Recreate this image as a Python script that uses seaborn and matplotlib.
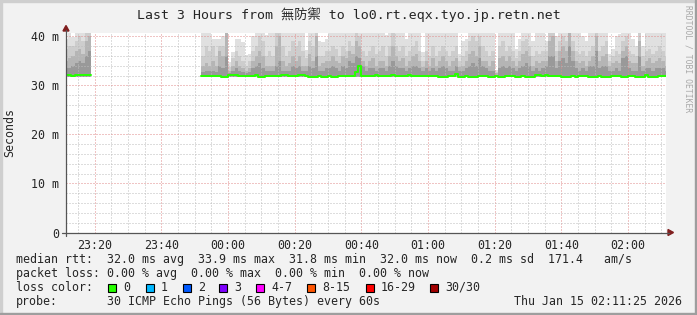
import matplotlib
matplotlib.use("Agg")
import matplotlib.pyplot as plt
import matplotlib.dates as mdates
from matplotlib.ticker import MultipleLocator
from matplotlib.patches import Rectangle, Polygon
from matplotlib.lines import Line2D
import numpy as np
import pandas as pd
import seaborn as sns

sns.set_style("white")
plt.rcParams['font.family'] = ['DejaVu Sans Mono', 'Noto Sans CJK TC']
plt.rcParams['lines.scale_dashes'] = False

W, H = 697, 315

# ---------------- data ----------------
title = "Last 3 Hours from 無防禦 to lo0.rt.eqx.tyo.jp.retn.net"
range_start = "2026-01-14 23:11:25"
range_end = "2026-01-15 02:11:25"
y_ticks = [0, 10, 20, 30, 40]
y_tick_labels = ["0", "10 m", "20 m", "30 m", "40 m"]
y_max = 40.8
smoke_floor = 31.7

block_starts = ["2026-01-14 23:11", "2026-01-14 23:52"]

# block 1 (23:11 - 23:18), values in ms
b1_median = [32.1, 32.1, 32.0, 32.1, 32.2, 32.1, 32.2, 32.1]
b1_top = [39.5, 41, 39.8, 41, 41, 41, 41, 41]
b1_q2 = [37.5, 38, 38, 39, 40, 39, 41, 41]
b1_q3 = [35, 35.5, 36, 37, 37.5, 36.5, 39, 40]
b1_q4 = [33.5, 33.5, 34, 34.5, 35, 34.5, 36, 37]

# block 2 (23:52 - 02:11), values in ms
b2_median = [
    32.0, 32.0, 32.0, 31.9, 31.9, 32.0, 31.8, 31.8, 32.1, 32.2,
    32.2, 32.0, 32.0, 32.0, 32.0, 32.0, 32.2, 31.8, 31.8, 32.0,
    32.0, 32.0, 32.0, 32.0, 32.2, 32.2, 32.0, 32.0, 32.0, 32.2,
    32.1, 32.0, 31.8, 31.8, 31.8, 32.0, 31.8, 31.8, 32.0, 31.8,
    31.8, 32.0, 32.0, 32.0, 32.0, 32.0, 32.7, 33.9, 32.0, 32.0,
    32.0, 32.0, 32.1, 32.0, 32.0, 32.0, 32.0, 32.1, 32.0, 32.0,
    32.0, 32.0, 32.1, 32.0, 32.0, 32.0, 32.0, 32.0, 32.0, 32.0,
    32.0, 31.8, 31.8, 31.8, 32.0, 32.0, 32.3, 31.8, 31.8, 32.0,
    31.8, 31.8, 31.8, 32.0, 32.0, 32.0, 31.8, 31.8, 32.0, 31.8,
    31.8, 32.0, 32.0, 32.0, 31.8, 31.8, 32.0, 31.8, 31.8, 31.8,
    32.2, 32.2, 32.0, 32.2, 32.0, 32.0, 32.0, 32.0, 31.8, 31.8,
    31.8, 32.0, 31.8, 32.0, 32.0, 32.0, 31.8, 31.8, 31.8, 32.0,
    31.8, 31.8, 31.8, 32.0, 32.0, 32.0, 31.8, 31.8, 32.0, 32.0,
    31.8, 31.8, 31.8, 32.2, 31.8, 31.8, 31.8, 32.0, 32.0, 32.0,
]
b2_top = [
    41, 41, 41, 39.5, 39.4, 39.4, 40, 41, 34.8, 36.9,
    39.4, 39.4, 38.9, 36.2, 36.5, 40, 41, 41, 41, 40.2,
    41, 41, 41, 41, 41, 41, 41, 41, 41, 41,
    41, 37.3, 41, 41, 41, 39, 38.8, 39.5, 41, 41,
    41, 41, 41, 41, 41, 41, 41, 41, 41, 41,
    41, 41, 41, 41, 41, 40.3, 41, 41, 41, 41,
    41, 39.5, 41, 41, 41, 41, 36.8, 41, 41, 41,
    41, 41, 41, 41, 41, 41, 41, 36.5, 39, 39.5,
    41, 41, 41, 41, 41, 41, 41, 41, 33.2, 41,
    41, 41, 41, 41, 37.4, 39.5, 41, 41, 41, 39,
    41, 41, 41, 39, 41, 41, 40, 41, 41, 41,
    41, 41, 41, 41, 40, 39, 41, 41, 41, 41,
    41, 41, 36.5, 37.5, 40, 40.5, 41, 41, 41, 39.5,
    38, 41, 38, 41, 41, 41, 41, 41, 41, 41,
]
b2_q2 = [
    36, 38, 37, 38, 36, 38, 38, 41, 33.8, 35.5,
    37, 36, 35, 34, 35, 37, 38, 40, 39, 36,
    37, 36, 41, 41, 38, 36, 37, 39, 38, 39,
    37, 35.5, 39, 38, 41, 36, 36, 37, 37, 38,
    37.5, 36, 38, 37, 39, 38, 41, 40, 37, 36,
    37, 38, 36.5, 37, 38, 36, 38, 41, 38, 37,
    38, 36, 37, 38, 39, 37, 35, 37, 36, 38,
    36, 37, 38, 37, 36, 37, 38, 35, 36, 37,
    39, 40, 39, 40, 38, 37, 36, 37, 32.8, 38,
    39, 37, 38, 37, 35.5, 37, 39, 39.5, 38, 36,
    37, 36.5, 37, 37, 41, 41, 37, 39, 40, 39,
    41, 39, 37, 36.5, 37, 36, 37, 38, 41, 37,
    38, 39, 35, 36, 37, 36.5, 39, 40, 37, 36.5,
    36, 41, 36, 37, 37.5, 36.5, 37, 38, 37, 36,
]
b2_q3 = [
    34, 34.5, 34, 35, 34, 37, 36, 41, 33, 34,
    35, 34, 33.5, 33, 33.5, 35, 36, 37, 36, 34,
    34, 34, 38, 40, 35, 34, 34.5, 36, 35, 36,
    34, 34, 36.5, 35, 40, 34, 34.5, 35, 35, 36,
    35, 34.5, 36, 35.5, 37, 36.5, 39, 38, 35, 34,
    35, 35.5, 34, 35, 35, 34, 36, 38, 36, 35,
    35.5, 34, 35, 36, 36.5, 35, 33.8, 35, 34, 35.5,
    34, 35, 36, 35, 34, 35, 35.5, 33.8, 34, 35,
    36.5, 37, 36, 38, 35, 35, 34, 35, 32.5, 35.5,
    36, 35, 36, 35, 34, 35, 36.5, 37, 36, 34,
    35, 34.5, 35, 35, 39, 40, 35, 37, 38, 37,
    41, 37, 35, 34.5, 35, 34, 35, 36, 40, 35,
    36, 36.5, 34, 34.5, 35, 34.5, 37, 38, 35, 34.5,
    34.5, 39, 34, 35, 35.5, 34.5, 35, 35.5, 35, 34,
]
b2_q4 = [
    32.8, 33, 33, 33, 32.8, 34, 33.5, 36, 32.5, 33,
    33.5, 33, 32.8, 32.5, 32.8, 33.5, 34, 34.5, 33.5, 33,
    33, 33, 34, 35, 33, 33, 33, 34, 33.5, 34,
    33, 33, 34, 33.5, 36, 33, 33, 33.5, 33.5, 34,
    33.5, 33, 34, 33.5, 35, 34.5, 36, 35.5, 34, 33,
    33.5, 33.5, 33, 33.5, 33.5, 33, 34, 35, 34, 33.5,
    33.5, 33, 33.5, 34, 34, 33.5, 33, 33.5, 33, 33.5,
    33, 33.5, 34, 33.5, 33, 33, 34, 33, 33, 33.5,
    34, 34.5, 34, 35.5, 34, 33.5, 33, 33, 32.2, 33.5,
    34, 33.5, 34, 33.5, 33, 33.5, 34, 34.5, 34, 33,
    33.5, 33, 33.5, 34, 36, 36, 33.5, 35, 35.5, 34.5,
    38, 35, 33.5, 33, 33.5, 33, 34, 34, 37, 33.5,
    34, 34, 33, 33, 33.5, 33, 35.5, 36, 33.5, 33,
    33, 36, 33, 33.5, 33.5, 33, 33.5, 33.5, 33.5, 33,
]

band_colors = ["#e0e0e0", "#cdcdcd", "#b5b5b5", "#999999"]
median_color = "#26ff00"

legend_line1 = "median rtt:  32.0 ms avg  33.9 ms max  31.8 ms min  32.0 ms now  0.2 ms sd  171.4   am/s"
legend_line2 = "packet loss: 0.00 % avg  0.00 % max  0.00 % min  0.00 % now"
loss_labels = ["0", "1", "2", "3", "4-7", "8-15", "16-29", "30/30"]
loss_colors = ["#26ff00", "#00b8ff", "#0059ff", "#7e00ff", "#ff00ff",
               "#ff5500", "#ff0000", "#a10000"]
loss_box_x = [108.3, 145.7, 182.7, 219.3, 256, 307.3, 366, 430.3]
probe_text = "30 ICMP Echo Pings (56 Bytes) every 60s"
stamp_text = "Thu Jan 15 02:11:25 2026"

# ---------------- figure ----------------
fig = plt.figure(figsize=(W / 100, H / 100), dpi=100, facecolor="#f2f2f2")


def fx(px):
    return px / W


def fy(py):
    return 1 - py / H


ax_left, ax_top, ax_w, ax_h = 66, 32.5, 600, 200
ax = fig.add_axes([fx(ax_left), fy(ax_top + ax_h), ax_w / W, ax_h / H])
ax.set_facecolor("white")

x_start = mdates.date2num(pd.Timestamp(range_start))
x_end = mdates.date2num(pd.Timestamp(range_end))

blocks = [
    (block_starts[0], b1_median, [b1_top, b1_q2, b1_q3, b1_q4]),
    (block_starts[1], b2_median, [b2_top, b2_q2, b2_q3, b2_q4]),
]
for start, med, bands in blocks:
    n = len(med)
    xs = mdates.date2num(pd.date_range(start, periods=n + 1, freq="min"))
    xs = np.minimum(xs, x_end)
    for vals, col in zip(bands, band_colors):
        v = np.append(np.asarray(vals, float), vals[-1])
        ax.fill_between(xs, smoke_floor, v, step="post", color=col,
                        linewidth=0, zorder=1)
    m = np.append(np.asarray(med, float), med[-1])
    sns.lineplot(x=xs, y=m, ax=ax, color=median_color, linewidth=1.45,
                 drawstyle="steps-post", estimator=None, sort=False, zorder=4)

ax.set_xlim(x_start, x_end)
ax.set_ylim(0, y_max)
ax.set_yticks(y_ticks)
ax.set_yticklabels(y_tick_labels)
ax.yaxis.set_minor_locator(MultipleLocator(2))
ax.xaxis.set_major_locator(mdates.MinuteLocator(byminute=[0, 20, 40]))
ax.xaxis.set_minor_locator(mdates.MinuteLocator(byminute=range(0, 60, 5)))
ax.xaxis.set_major_formatter(mdates.DateFormatter("%H:%M"))
ax.set_axisbelow(False)
ax.grid(True, which="minor", color="#bdbdbd", linestyle=(0, (0.72, 1.44)),
        linewidth=0.72, antialiased=True)
ax.grid(True, which="major", color="#e08a8a", linestyle=(0, (0.72, 1.44)),
        linewidth=0.72, antialiased=True)
for s in ax.spines.values():
    s.set_visible(False)
ax.tick_params(which="major", length=3, width=0.7, color="#333333",
               direction="out", labelsize=8.4, pad=2)
ax.tick_params(which="minor", length=1.5, width=0.7, color="#333333", direction="out")
ax.set_xlabel("")
ax.set_ylabel("")

# axis lines + arrows
axis_col = "#555555"
arrow_col = "#801f1f"
fig.add_artist(Line2D([fx(ax_left), fx(ax_left)], [fy(236), fy(30)],
                      color=axis_col, linewidth=0.9, transform=fig.transFigure))
fig.add_artist(Line2D([fx(62), fx(669)], [fy(232.5), fy(232.5)],
                      color=axis_col, linewidth=0.9, transform=fig.transFigure))
fig.add_artist(Polygon([[fx(63), fy(31)], [fx(69), fy(31)], [fx(66), fy(25.5)]],
                       closed=True, color=arrow_col, transform=fig.transFigure))
fig.add_artist(Polygon([[fx(668), fy(229.5)], [fx(668), fy(235.5)], [fx(673.5), fy(232.5)]],
                       closed=True, color=arrow_col, transform=fig.transFigure))

# title and labels
fig.text(fx(348.5), fy(15), title, ha="center", va="center", fontsize=9.5)
fig.text(fx(10), fy(132), "Seconds", rotation=90, ha="center", va="center", fontsize=8.4)
fig.text(fx(688), fy(5), "RRDTOOL / TOBI OETIKER", rotation=270, ha="center",
         va="top", fontsize=5.8, color="#a8a8a8")

# legend
fs = 8.4
fig.text(fx(16), fy(259.3), legend_line1, ha="left", va="center", fontsize=fs)
fig.text(fx(16), fy(273.3), legend_line2, ha="left", va="center", fontsize=fs)
fig.text(fx(16), fy(287.3), "loss color:", ha="left", va="center", fontsize=fs)
for lab, col, bx in zip(loss_labels, loss_colors, loss_box_x):
    fig.add_artist(Rectangle((fx(bx), fy(292.3)), 8 / W, 8 / H, facecolor=col,
                             edgecolor="black", linewidth=0.8, transform=fig.transFigure))
    fig.text(fx(bx + 15), fy(287.3), lab, ha="left", va="center", fontsize=fs)
fig.text(fx(16), fy(301.6), "probe:", ha="left", va="center", fontsize=fs)
fig.text(fx(107.3), fy(301.6), probe_text, ha="left", va="center", fontsize=fs)
fig.text(fx(513.5), fy(301.6), stamp_text, ha="left", va="center", fontsize=fs)

# frame (3D shade)
fig.add_artist(Rectangle((0, fy(2)), 1, 2 / H, color="#cfcfcf", transform=fig.transFigure))
fig.add_artist(Rectangle((0, 0), 2 / W, 1, color="#cfcfcf", transform=fig.transFigure))
fig.add_artist(Rectangle((0, 0), 1, 2 / H, color="#9e9e9e", transform=fig.transFigure))
fig.add_artist(Rectangle((fx(W - 2), 0), 2 / W, 1, color="#9e9e9e", transform=fig.transFigure))

fig.savefig("out.png", dpi=100, facecolor=fig.get_facecolor())
